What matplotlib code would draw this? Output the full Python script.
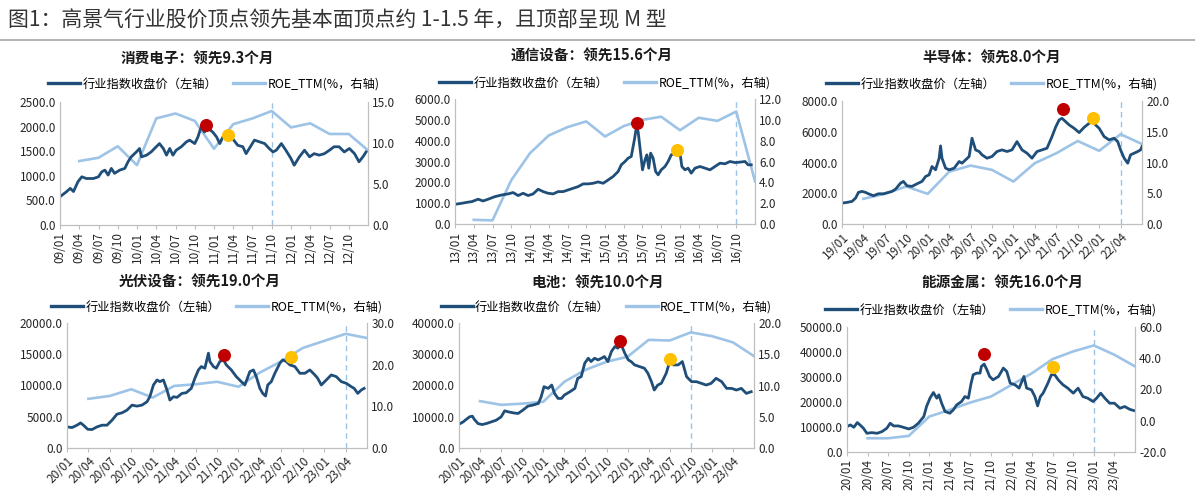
import matplotlib
matplotlib.use('Agg')
import matplotlib.pyplot as plt
from matplotlib.lines import Line2D

plt.rcParams['font.family'] = ['Noto Sans CJK SC', 'DejaVu Sans']

W, H = 1195, 498

# ---- data (x = months from first tick) ----
ce_t = [0, 1.0, 1.6, 2.1, 2.8, 3.4, 4.1, 5.2, 6.0, 6.5, 7.0, 7.5, 8.0, 8.5, 9.3, 10.1, 10.6, 11.1,
        11.9, 12.4, 12.7, 13.5, 14.2, 15.0, 15.5, 16.1, 16.6, 17.1, 17.6, 18.1, 18.9, 19.7, 20.2,
        21.0, 21.5, 22.0, 22.5, 23.1, 23.8, 24.4, 24.9, 25.4, 26.2, 26.9, 27.7, 28.5, 29.0, 29.5,
        30.3, 31.1, 31.9, 32.6, 33.2, 33.7, 34.5, 35.2, 36.0, 36.5, 37.3, 38.1, 38.9, 39.6, 40.4,
        41.2, 42.0, 42.7, 43.5, 44.3, 45.1, 45.9, 46.6, 47.2, 47.7]
ce_price = [575, 675, 745, 680, 880, 980, 945, 945, 980, 1080, 1115, 1015, 1150, 1050, 1115, 1150,
            1285, 1385, 1485, 1555, 1385, 1420, 1485, 1590, 1655, 1555, 1420, 1555, 1420, 1520,
            1590, 1690, 1725, 1655, 1790, 1995, 1890, 1960, 1890, 1790, 1655, 1790, 1825, 1755,
            1620, 1590, 1450, 1555, 1725, 1690, 1655, 1555, 1485, 1520, 1655, 1520, 1350, 1215,
            1385, 1520, 1385, 1450, 1420, 1450, 1520, 1590, 1590, 1485, 1555, 1450, 1285, 1385, 1485]
ce_roe_t = [3, 6, 9, 12, 15, 18, 21, 24, 27, 30, 33, 36, 39, 42, 45, 48]
ce_roe = [7.8, 8.2, 9.6, 7.3, 13.0, 13.6, 12.7, 9.3, 12.3, 13.0, 13.9, 11.9, 12.4, 11.1, 11.1, 9.1]
ce_dots_t = [22.8, 26.2]
ce_dots_v = [2030, 1830]
ce_ticks = ['09/01', '09/04', '09/07', '09/10', '10/01', '10/04', '10/07', '10/10',
            '11/01', '11/04', '11/07', '11/10', '12/01', '12/04', '12/07', '12/10']

tel_t = [0, 1.1, 1.9, 2.7, 3.7, 4.5, 5.3, 6.4, 7.5, 8.5, 9.3, 10.1, 10.9, 11.7, 12.5, 13.3, 14.1,
         14.9, 15.7, 16.5, 17.3, 18.1, 18.9, 19.7, 20.5, 21.3, 22.1, 22.9, 23.7, 24.5, 25.3, 26.1,
         26.6, 27.2, 27.7, 28.2, 28.7, 29.0, 29.3, 29.7, 30.0, 30.4, 30.7, 31.0, 31.3, 31.7, 32.1,
         32.5, 33.0, 33.6, 34.1, 34.6, 35.2, 35.6, 36.0, 36.3, 36.8, 37.3, 37.8, 38.4, 39.2, 40.0,
         40.8, 41.6, 42.4, 43.2, 44.0, 44.8, 45.6, 46.4, 46.9, 47.4]
tel_price = [946, 995, 1040, 1075, 1190, 1105, 1190, 1315, 1395, 1445, 1510, 1365, 1475, 1365,
             1445, 1670, 1555, 1475, 1445, 1555, 1555, 1635, 1715, 1795, 1925, 1925, 1955, 2020,
             1955, 2115, 2280, 2520, 2840, 3000, 3160, 3240, 4040, 4600, 4440, 3400, 2600, 3080,
             3320, 2680, 3400, 3160, 2520, 2360, 2600, 2760, 3000, 3320, 3400, 3530, 3400, 2760,
             2600, 2680, 2440, 2680, 2760, 2680, 2600, 2760, 2920, 2890, 3000, 2950, 2970, 3000,
             2840, 2840]
tel_roe_t = [3, 6, 9, 12, 15, 18, 21, 24, 27, 30, 33, 36, 39, 42, 45, 48]
tel_roe = [0.4, 0.35, 4.2, 6.8, 8.5, 9.3, 9.85, 8.4, 9.4, 10.0, 10.3, 9.0, 10.2, 9.9, 10.8, 4.1]
tel_dots_t = [29.1, 35.6]
tel_dots_v = [4840, 3560]
tel_ticks = ['13/01', '13/04', '13/07', '13/10', '14/01', '14/04', '14/07', '14/10',
             '15/01', '15/04', '15/07', '15/10', '16/01', '16/04', '16/07', '16/10']

semi_t = [0, 0.7, 1.4, 1.9, 2.3, 2.8, 3.3, 3.7, 4.4, 5.1, 5.8, 6.5, 7.0, 7.5, 8.2, 8.6, 9.1, 9.8,
          10.5, 11.2, 11.7, 12.2, 12.6, 13.1, 13.6, 13.8, 14.0, 14.5, 15.0, 15.7, 16.4, 16.8, 17.3,
          17.8, 18.2, 18.7, 19.2, 19.6, 20.3, 21.0, 21.7, 22.4, 23.1, 23.8, 24.5, 25.2, 25.9, 26.6,
          27.3, 28.0, 28.7, 29.4, 29.9, 30.4, 30.8, 31.3, 31.8, 32.5, 33.2, 33.9, 34.6, 35.1, 35.5,
          36.0, 36.7, 37.4, 38.1, 38.6, 39.0, 39.5, 40.0, 40.4, 40.9, 41.4, 41.8, 42.0]
semi_price = [1360, 1405, 1470, 1685, 2055, 2120, 2055, 1965, 1840, 1965, 1965, 2055, 2120, 2270,
              2660, 2770, 2485, 2445, 2615, 2770, 3090, 3200, 3740, 3525, 4280, 5080, 4280, 3630,
              3525, 3630, 4065, 3955, 4170, 4390, 5580, 4820, 4715, 4500, 4280, 4390, 4715, 4820,
              4715, 4820, 5360, 4820, 4605, 4280, 4715, 4820, 4930, 5685, 6290, 6770, 6875, 6660,
              6445, 6225, 5945, 6290, 6550, 6660, 6445, 6225, 5685, 5470, 5580, 5360, 4820, 4280,
              3955, 4500, 4605, 4715, 4820, 5040]
semi_roe_t = [3, 6, 9, 12, 15, 18, 21, 24, 27, 30, 33, 36, 39, 42]
semi_roe = [4.1, 4.9, 6.1, 4.9, 8.5, 9.5, 8.8, 6.9, 9.9, 11.5, 13.5, 11.9, 14.6, 13.0]
semi_dots_t = [31.0, 35.2]
semi_dots_v = [7460, 6920]
semi_ticks = ['19/01', '19/04', '19/07', '19/10', '20/01', '20/04', '20/07', '20/10',
              '21/01', '21/04', '21/07', '21/10', '22/01', '22/04']

pv_t = [0, 0.7, 1.4, 1.9, 2.3, 2.9, 3.5, 4.2, 4.9, 5.6, 6.3, 7.0, 7.7, 8.4, 9.1, 9.8, 10.5, 11.2,
        11.6, 12.1, 12.6, 13.0, 13.5, 14.0, 14.4, 14.9, 15.4, 16.1, 16.7, 17.4, 17.9, 18.4, 18.8,
        19.3, 19.8, 20.0, 20.5, 20.9, 21.4, 21.9, 22.3, 23.0, 23.7, 24.4, 24.9, 25.6, 26.1, 26.5,
        27.0, 27.4, 27.8, 28.1, 28.6, 29.1, 29.8, 30.2, 30.7, 31.2, 31.9, 32.6, 33.3, 34.0, 34.7,
        35.1, 35.6, 36.3, 37.0, 37.7, 38.4, 39.1, 39.8, 40.2, 40.7, 41.2, 41.6]
pv_price = [3380, 3270, 3650, 4020, 3650, 3000, 2950, 3380, 3650, 3650, 4450, 5415, 5630, 6060,
            6860, 6700, 6860, 7400, 8200, 10080, 10885, 10620, 10885, 9275, 7670, 8200, 8100, 8740,
            8850, 9545, 11150, 12490, 13030, 12760, 15175, 13835, 13030, 12760, 13835, 14100, 13300,
            12490, 11420, 10620, 10080, 12225, 12490, 11420, 9545, 8740, 8310, 10080, 10620, 11955,
            13565, 14100, 13835, 13300, 13030, 11955, 11955, 12490, 11690, 11150, 10080, 10885,
            11690, 11420, 10620, 10350, 9810, 9545, 8740, 9275, 9545]
pv_roe_t = [3, 6, 9, 12, 15, 18, 21, 24, 27, 30, 33, 36, 39, 42]
pv_roe = [11.8, 12.5, 14.1, 12.1, 14.9, 15.3, 15.9, 14.7, 18.1, 20.8, 24.0, 25.7, 27.4, 26.4]
pv_dots_t = [22.0, 31.4]
pv_dots_v = [14900, 14530]
pv_ticks = ['20/01', '20/04', '20/07', '20/10', '21/01', '21/04', '21/07', '21/10',
            '22/01', '22/04', '22/07', '22/10', '23/01', '23/04']

bat_t = [0, 0.6, 1.0, 1.5, 1.9, 2.2, 2.7, 3.3, 3.9, 4.6, 5.3, 6.0, 6.5, 7.0, 7.7, 8.4, 9.1, 9.8,
         10.5, 11.3, 11.7, 12.1, 12.7, 13.2, 13.6, 14.1, 14.6, 15.0, 15.8, 16.5, 16.9, 17.4, 17.9,
         18.4, 18.8, 19.3, 19.8, 20.3, 20.7, 21.2, 21.7, 22.2, 22.6, 23.1, 23.6, 24.1, 24.5, 25.0,
         25.7, 26.4, 26.9, 27.4, 27.8, 28.3, 28.8, 29.5, 30.0, 30.5, 31.2, 31.8, 32.4, 33.1, 33.8,
         34.5, 35.2, 35.9, 36.6, 37.4, 38.1, 38.8, 39.5, 40.2, 40.9, 41.6]
bat_price = [7610, 8360, 9110, 9970, 10185, 9110, 7825, 7505, 7825, 8360, 8900, 9970, 11900,
             11580, 11255, 11040, 12115, 13400, 13720, 14260, 16400, 19620, 19080, 20150, 17475,
             15865, 15865, 16940, 18010, 19080, 22300, 22830, 27120, 28730, 27660, 28730, 28195,
             28730, 29270, 27660, 30870, 32480, 31950, 33020, 30340, 28195, 27660, 26590, 26050,
             25515, 23900, 21225, 18545, 20150, 20690, 23900, 27660, 26590, 26590, 27660, 22830,
             21225, 21225, 20690, 20150, 20690, 22300, 21225, 19080, 19080, 18545, 19080, 17475,
             18010]
bat_roe_t = [3, 6, 9, 12, 15, 18, 21, 24, 27, 30, 33, 36, 39, 42]
bat_roe = [7.5, 6.9, 7.1, 7.4, 10.6, 12.5, 13.8, 14.6, 17.3, 17.2, 18.5, 17.9, 16.9, 14.7]
bat_dots_t = [22.9, 30.0]
bat_dots_v = [34300, 28400]
bat_ticks = pv_ticks

met_t = [0, 0.5, 1.0, 1.5, 1.9, 2.4, 2.9, 3.6, 4.4, 5.1, 5.8, 6.3, 6.8, 7.5, 8.2, 9.0, 9.7, 10.4,
         11.2, 11.6, 12.1, 12.6, 13.1, 13.4, 13.8, 14.3, 15.0, 15.5, 16.0, 16.7, 17.2, 17.7, 18.1,
         18.4, 18.9, 19.4, 19.6, 20.0, 20.4, 20.8, 21.3, 22.1, 22.8, 23.3, 23.8, 24.5, 25.1, 25.8,
         26.2, 26.9, 27.4, 27.8, 28.2, 28.6, 29.3, 29.8, 30.3, 30.8, 31.5, 32.2, 33.0, 33.7, 34.4,
         35.1, 35.9, 36.4, 37.0, 37.6, 38.3, 39.0, 39.8, 40.5, 41.2, 41.8]
met_price = [10160, 10830, 9890, 11765, 10830, 9490, 7490, 7755, 7490, 8155, 9490, 11500, 10430,
             10430, 9890, 9225, 9890, 11500, 14170, 18180, 21525, 23800, 21525, 22860, 19520,
             16180, 15510, 16850, 18850, 20190, 22190, 21525, 27540, 30885, 31550, 31550, 34230,
             35160, 32890, 30215, 28880, 30215, 33560, 32220, 27540, 26870, 25540, 30215, 25540,
             24870, 22190, 18450, 22190, 23530, 27540, 30885, 30885, 28880, 26870, 25540, 23530,
             25540, 22190, 21525, 20190, 21525, 23530, 21525, 19520, 19520, 17510, 18180, 17110,
             16580]
met_roe_t = [3, 6, 9, 12, 15, 18, 21, 24, 27, 30, 33, 36, 39, 42]
met_roe = [-11.2, -11.2, -9.7, 2.7, 7.0, 11.7, 15.5, 23.0, 30.5, 39.5, 44.4, 48.2, 42.2, 34.8]
met_dots_t = [20.0, 30.0]
met_dots_v = [39175, 33830]
met_ticks = pv_ticks

NAVY = '#1F4E79'
LIGHT = '#9DC3E6'
GRID = '#BFBFBF'
TXT = '#262626'

fig = plt.figure(figsize=(W / 100, H / 100), dpi=100)
fig.patch.set_facecolor('white')

fig.text(8 / W, 1 - 20 / H, '图1：高景气行业股价顶点领先基本面顶点约 1-1.5 年，且顶部呈现 M 型',
         fontsize=15, color='#333333', va='center', ha='left')
fig.add_artist(Line2D([0, 1], [1 - 40.5 / H, 1 - 40.5 / H], color='#A6A6A6', lw=1.2))


def panel(box, title, title_xy, t, price, roe_t, roe, ticks, xmax, ymax, ystep,
          rmin, rmax, rstep, vline, dots_t, dots_v, rot):
    L, T, R, B = box
    ax = fig.add_axes([L / W, 1 - B / H, (R - L) / W, (B - T) / H])
    ax2 = ax.twinx()
    ax2.set_zorder(ax.get_zorder() - 1)
    ax.patch.set_visible(False)

    ax2.plot(roe_t, roe, color=LIGHT, lw=1.9)
    ax2.axvline(vline, color=LIGHT, lw=1.0, ls=(0, (4, 3)))
    ax.plot(t, price, color=NAVY, lw=2.0)
    ax.scatter(dots_t[:1], dots_v[:1], s=70, color='#C00000', zorder=5)
    ax.scatter(dots_t[1:], dots_v[1:], s=70, color='#FFC000', zorder=5)

    ax.set_xlim(0, xmax)
    ax.set_ylim(0, ymax)
    ax2.set_ylim(rmin, rmax)
    yt = [i * ystep for i in range(int(round(ymax / ystep)) + 1)]
    ax.set_yticks(yt)
    ax.set_yticklabels(['%.1f' % v for v in yt], fontsize=8.5, color=TXT)
    n = int(round((rmax - rmin) / rstep)) + 1
    rt = [rmin + i * rstep for i in range(n)]
    ax2.set_yticks(rt)
    ax2.set_yticklabels(['%.1f' % v for v in rt], fontsize=8.5, color=TXT)
    ax.set_xticks([3 * i for i in range(len(ticks))])
    if rot == 90:
        ax.set_xticklabels(ticks, rotation=90, fontsize=8.5, color=TXT)
    else:
        ax.set_xticklabels(ticks, rotation=45, ha='right', rotation_mode='anchor',
                           fontsize=8.5, color=TXT)

    for a in (ax, ax2):
        a.spines['top'].set_visible(False)
        a.spines['left'].set_color(GRID)
        a.spines['right'].set_color(GRID)
        a.spines['bottom'].set_color(GRID)
        a.tick_params(axis='y', length=0, pad=3)
    ax.tick_params(axis='x', length=3, color=GRID, pad=2)

    handles = [Line2D([], [], color=NAVY, lw=2.4), Line2D([], [], color=LIGHT, lw=2.4)]
    ax.legend(handles, ['行业指数收盘价（左轴）', 'ROE_TTM(%，右轴)'], loc='center',
              bbox_to_anchor=(0.5, 1 + (T - title_xy[2]) / (B - T)), ncol=2,
              frameon=False, fontsize=8.8, handlelength=2.6, columnspacing=1.3,
              handletextpad=0.2, borderaxespad=0, borderpad=0)
    fig.text(title_xy[0] / W, 1 - title_xy[1] / H, title, fontsize=10.5, fontweight='bold',
             color='#1A1A1A', ha='center', va='center')


panel((60, 102, 368, 225), '消费电子：领先9.3个月', (197, 59, 84), ce_t, ce_price,
      ce_roe_t, ce_roe, ce_ticks, 48, 2500, 500, 0, 15, 5, 33, ce_dots_t, ce_dots_v, 90)
panel((455, 99, 755, 224), '通信设备：领先15.6个月', (592, 56, 83), tel_t, tel_price,
      tel_roe_t, tel_roe, tel_ticks, 48, 6000, 1000, 0, 12, 2, 45, tel_dots_t, tel_dots_v, 90)
panel((842, 101, 1142, 224), '半导体：领先8.0个月', (992, 58, 84), semi_t, semi_price,
      semi_roe_t, semi_roe, semi_ticks, 42, 8000, 2000, 0, 20, 5, 39, semi_dots_t, semi_dots_v, 45)
panel((67, 323, 367, 448), '光伏设备：领先19.0个月', (200, 282, 307), pv_t, pv_price,
      pv_roe_t, pv_roe, pv_ticks, 42, 20000, 5000, 0, 30, 10, 39, pv_dots_t, pv_dots_v, 45)
panel((459, 323, 754, 448), '电池：领先10.0个月', (598, 283, 307), bat_t, bat_price,
      bat_roe_t, bat_roe, bat_ticks, 42, 40000, 10000, 0, 20, 5, 33, bat_dots_t, bat_dots_v, 45)
panel((847, 327, 1135, 452), '能源金属：领先16.0个月', (1002, 283, 310), met_t, met_price,
      met_roe_t, met_roe, met_ticks, 42, 50000, 10000, -20, 60, 20, 36, met_dots_t, met_dots_v, 90)

fig.savefig('out.png', dpi=100)
